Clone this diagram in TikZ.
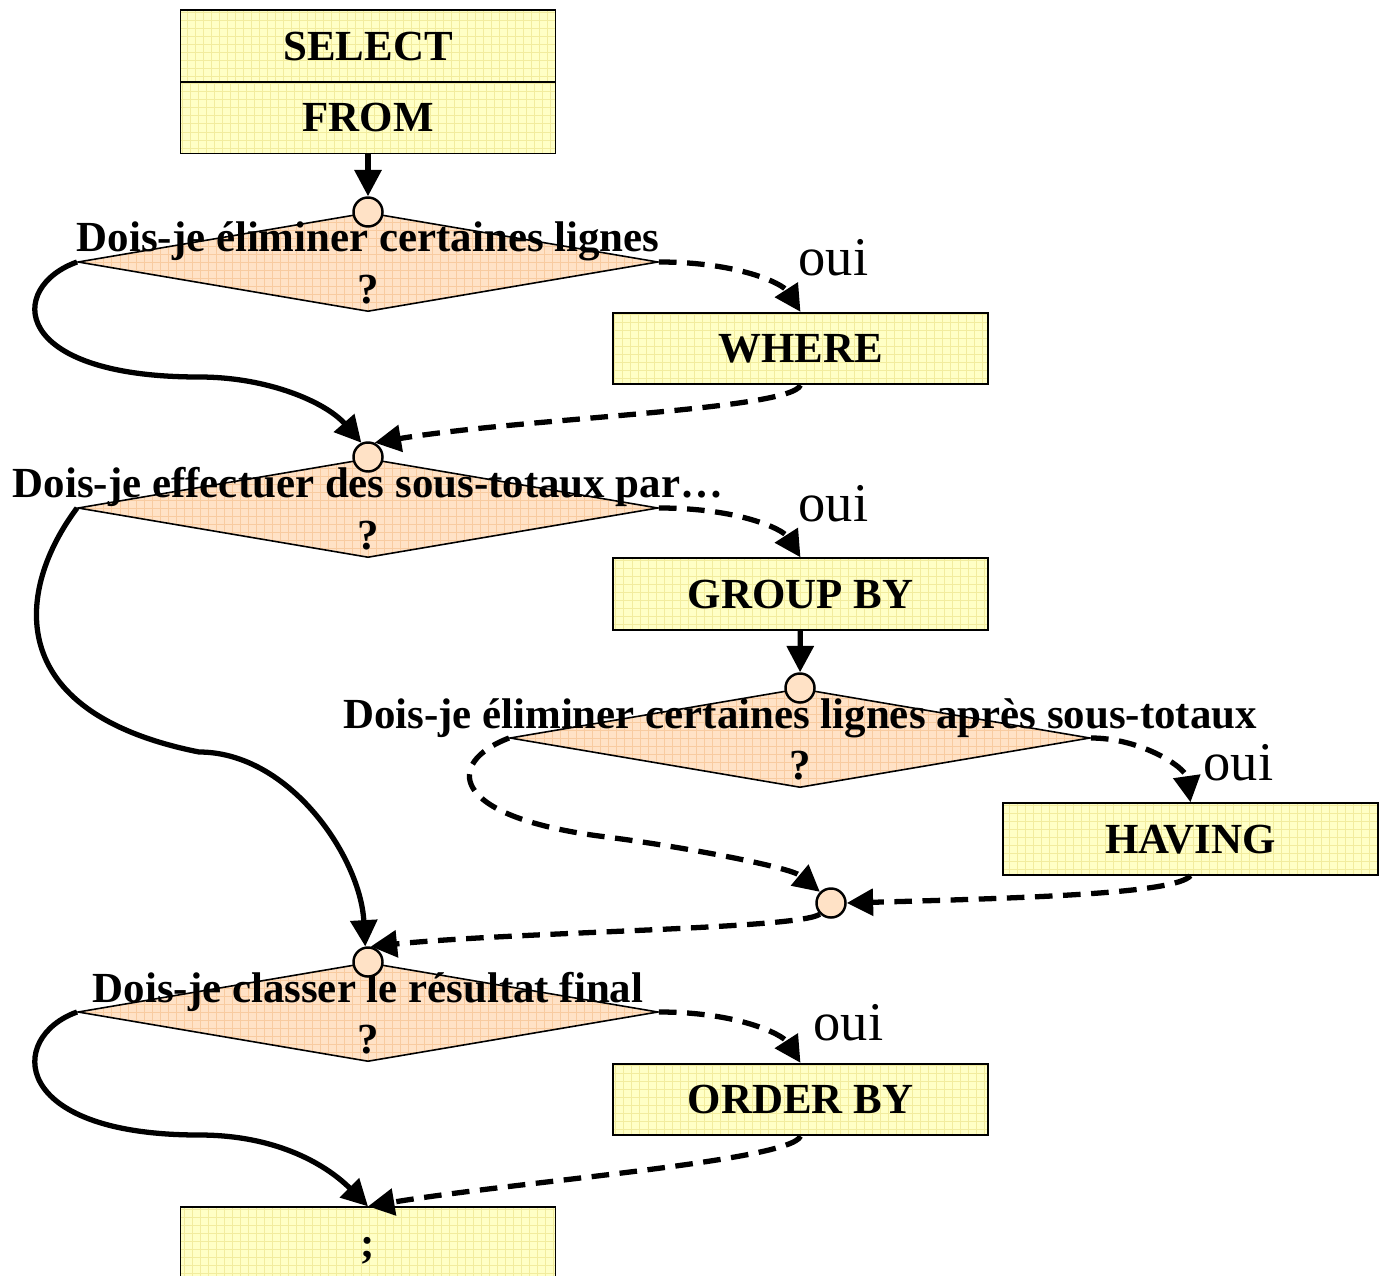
\documentclass[tikz,border=0pt]{standalone}
\usepackage{fontspec}
\setmainfont{Liberation Serif}
\usetikzlibrary{arrows.meta,positioning,shapes.geometric}
\definecolor{ClauseFill}{HTML}{FFFFC6}
\definecolor{ClauseGrid}{HTML}{F2EC9E}
\definecolor{AskFill}{HTML}{FFE2C6}
\definecolor{AskGrid}{HTML}{F8CBA0}

\begin{document}
\begin{tikzpicture}[x=0.01cm,y=-0.01cm,node distance=-0.5pt,
    clause/.style={draw,line width=0.5pt,fill=ClauseFill,minimum width=3.75cm,minimum height=0.715cm,inner sep=0pt,
      font=\fontsize{12.2}{14}\selectfont\bfseries,text height=8pt,text depth=0pt,
      path picture={\draw[ClauseGrid,line width=0.2pt] (path picture bounding box.south west) grid[step=0.08cm] (path picture bounding box.north east);}},
    decision/.style={diamond,draw,line width=0.45pt,fill=AskFill,minimum width=5.8cm,minimum height=0.99cm,inner sep=0pt,
      path picture={\draw[AskGrid,line width=0.2pt] (path picture bounding box.south west) grid[step=0.08cm] (path picture bounding box.north east);}},
    junction/.style={circle,draw,line width=0.7pt,fill=AskFill,minimum size=0.29cm,inner sep=0pt},
    asktext/.style={font=\fontsize{12.2}{14}\selectfont\bfseries,inner sep=0pt,anchor=base},
    ouitext/.style={font=\fontsize{15.5}{18}\selectfont,inner sep=0pt,anchor=base west},
    flow/.style={line width=1.5pt,-{Triangle[length=7.5pt,width=7.5pt]}},
    yesflow/.style={flow,dash pattern=on 5pt off 3pt}]
    \useasboundingbox (0,0) rectangle (1385,1276);

    % clauses
    \node[clause,minimum height=0.72cm] (sel) at (368,46) {SELECT};
    \node[clause,below=of sel] (frm) {FROM};
    \node[clause] (where) at (800.5,348.5) {WHERE};
    \node[clause] (groupby) at (800.5,594) {GROUP BY};
    \node[clause] (having) at (1190.5,839) {HAVING};
    \node[clause] (orderby) at (800.5,1099.5) {ORDER BY};
    \node[clause] (endq) at (368,1243) {;};

    % questions
    \node[decision] (ask1) at (368,262) {};
    \node[decision] (ask2) at (368,508) {};
    \node[decision] (ask3) at (800,738) {};
    \node[decision] (ask4) at (368,1012) {};
    \node[asktext] (ask1txt) at ([yshift=1mm]ask1.center) {Dois-je éliminer certaines lignes};
    \node[asktext] (ask1q) at ([yshift=-4.1mm]ask1.center) {?};
    \node[asktext] (ask2txt) at ([yshift=1mm]ask2.center) {Dois-je effectuer des sous-totaux par…};
    \node[asktext] (ask2q) at ([yshift=-4.1mm]ask2.center) {?};
    \node[asktext] (ask3txt) at ([yshift=1mm]ask3.center) {Dois-je éliminer certaines lignes après sous-totaux};
    \node[asktext] (ask3q) at ([yshift=-4.1mm]ask3.center) {?};
    \node[asktext] (ask4txt) at ([yshift=1mm]ask4.center) {Dois-je classer le résultat final};
    \node[asktext] (ask4q) at ([yshift=-4.1mm]ask4.center) {?};

    % junctions
    \node[junction] (j1) at (368,212) {};
    \node[junction] (j2) at (368,457) {};
    \node[junction] (j3) at (800,688) {};
    \node[junction] (j4) at (831,903) {};
    \node[junction] (j5) at (368,962) {};

    \node[ouitext] (oui1) at (798,275) {oui};
    \node[ouitext] (oui2) at (798,521) {oui};
    \node[ouitext] (oui3) at (1203,780) {oui};
    \node[ouitext] (oui4) at (813,1040) {oui};

    % flow
    \draw[flow] (frm) -- (j1);
    \draw[yesflow] (ask1.east) .. controls +(80,0) and +(-18,-28) .. (where.north);
    \draw[yesflow] (where.south) .. controls +(-10,25) and +(150,-25) .. (j2.65);
    \draw[flow] (ask1.west) .. controls +(-70,25) and +(-190,0) .. ++(122,115) .. controls +(70,0) and +(-35,-40) .. (j2.115);
    \draw[yesflow] (ask2.east) .. controls +(80,0) and +(-18,-28) .. (groupby.north);
    \draw[flow] (groupby) -- (j3);
    \draw[yesflow] (ask3.east) .. controls +(50,0) and +(-5,-35) .. (having.north);
    \draw[yesflow] (ask3.west) .. controls +(-65,25) and +(-150,-20) .. ++(90,98) .. controls +(80,10) and +(-30,-25) .. (j4.135);
    \draw[yesflow] (having.south) .. controls +(-15,18) and +(180,-5) .. (j4.east);
    \draw[yesflow] (j4.225) .. controls +(-20,15) and +(150,-15) .. (j5.80);
    \draw[flow] (ask2.west) .. controls +(-60,80) and +(-200,-40) .. ++(122,244) .. controls +(90,0) and +(-5,-90) .. (j5.100);
    \draw[yesflow] (ask4.east) .. controls +(80,0) and +(-18,-28) .. (orderby.north);
    \draw[yesflow] (orderby.south) .. controls +(-10,25) and +(150,-25) .. (endq.north);
    \draw[flow] (ask4.west) .. controls +(-70,25) and +(-190,0) .. ++(122,123) .. controls +(80,0) and +(-40,-40) .. (endq.north);
\end{tikzpicture}
\end{document}
